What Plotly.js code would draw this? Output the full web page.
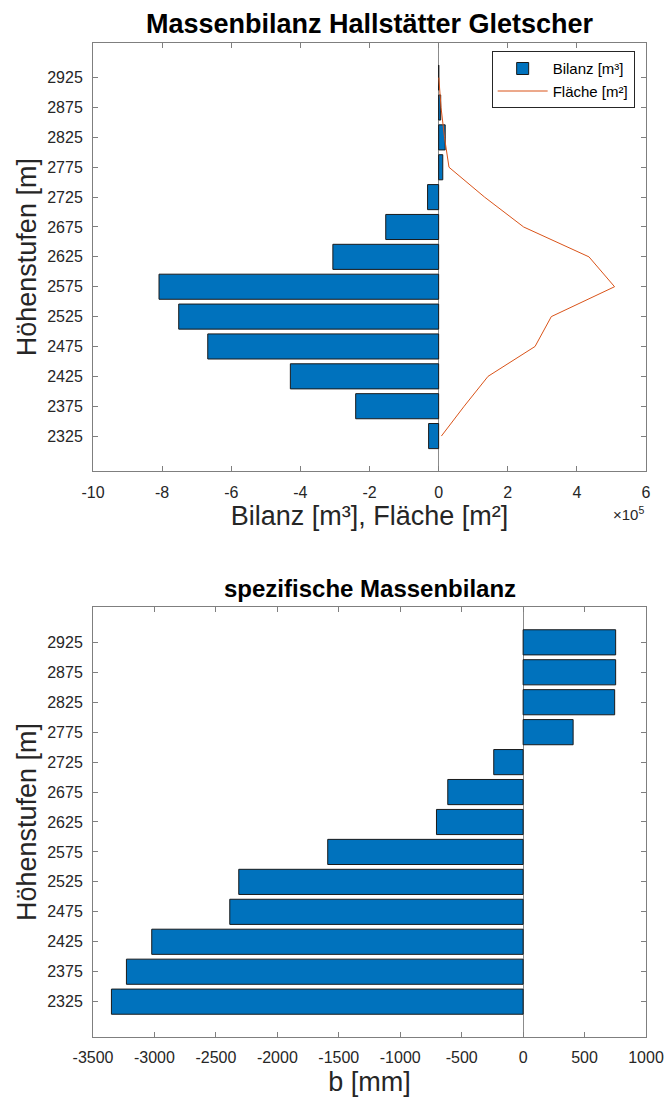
<!DOCTYPE html>
<html><head><meta charset="utf-8">
<script src="https://cdn.plot.ly/plotly-3.0.1.min.js"></script>
<style>html,body{margin:0;padding:0;background:#fff}#chart{width:664px;height:1101px}</style>
</head><body><div id="chart"></div>
<script>
// Höhenstufen [m]
const hoehen = [2325, 2375, 2425, 2475, 2525, 2575, 2625, 2675, 2725, 2775, 2825, 2875, 2925];
// Bilanz [m³]
const bilanz = [-29000, -240000, -429000, -668000, -752000, -809000, -306000, -153000, -32000, 12000, 19000, 6000, 500];
// Fläche [m²]
const flaeche = [8000, 74000, 143000, 279000, 326000, 509000, 435000, 246000, 133000, 30000, 17000, 7000, 500];
// spezifische Massenbilanz b [mm]
const bSpez = [-3350, -3228, -3022, -2387, -2314, -1590, -705, -613, -239, 407, 745, 753, 753];

const xTopVals = [-1000000, -800000, -600000, -400000, -200000, 0, 200000, 400000, 600000];
const xTopText = ["-10", "-8", "-6", "-4", "-2", "0", "2", "4", "6"];
const xBotVals = [-3500, -3000, -2500, -2000, -1500, -1000, -500, 0, 500, 1000];
const xBotText = ["-3500", "-3000", "-2500", "-2000", "-1500", "-1000", "-500", "0", "500", "1000"];
const yTickVals = hoehen;

const font = "Liberation Sans, Arial, Helvetica, sans-serif";
const axisCol = "#7f7f7f";
const barCol = "#0072BD";
const lineCol = "#D95319";

const traces = [
  {type: "bar", orientation: "h", y: hoehen, x: bilanz, name: "Bilanz [m³]",
   width: 42, marker: {color: barCol, line: {color: "#1a1a1a", width: 1}},
   xaxis: "x", yaxis: "y"},
  {type: "scatter", mode: "lines", y: hoehen, x: flaeche, name: "Fläche [m²]",
   line: {color: lineCol, width: 1}, xaxis: "x", yaxis: "y"},
  {type: "bar", orientation: "h", y: hoehen, x: bSpez, name: "b",
   width: 42, marker: {color: barCol, line: {color: "#1a1a1a", width: 1}},
   xaxis: "x2", yaxis: "y2", showlegend: false}
];

const axBase = {
  showgrid: false, showline: true, linecolor: axisCol, linewidth: 1, mirror: "ticks",
  ticks: "inside", ticklen: 5, tickcolor: axisCol, tickwidth: 1,
  tickfont: {family: font, size: 16, color: "#262626"},
  zeroline: false
};
const titleFont = {family: font, size: 27, color: "#262626"};

const layout = {
  width: 664, height: 1101,
  margin: {l: 93, r: 18, t: 43, b: 64},
  paper_bgcolor: "#fff", plot_bgcolor: "#fff",
  font: {family: font, color: "#262626"},
  bargap: 0,
  title: {text: "<b>Massenbilanz Hallstätter Gletscher</b>", font: {family: font, size: 27, color: "#000"},
          x: 0.5565, xanchor: "center", y: 0.979, yanchor: "middle"},
  xaxis: Object.assign({}, axBase, {domain: [0, 1], anchor: "y", range: [-1000000, 600000],
    tickmode: "array", tickvals: xTopVals, ticktext: xTopText, ticklabelstandoff: 6,
    zeroline: true, zerolinecolor: "#8c8c8c", zerolinewidth: 1,
    title: {text: "Bilanz [m³], Fläche [m²]", font: titleFont, standoff: 5}}),
  yaxis: Object.assign({}, axBase, {domain: [0.5691, 1], anchor: "x", range: [2266, 2983],
    tickmode: "array", tickvals: yTickVals, ticklabelstandoff: 6,
    title: {text: "Höhenstufen [m]", font: titleFont, standoff: 2}}),
  xaxis2: Object.assign({}, axBase, {domain: [0, 1], anchor: "y2", range: [-3500, 1000],
    tickmode: "array", tickvals: xBotVals, ticktext: xBotText, ticklabelstandoff: 6,
    zeroline: true, zerolinecolor: "#8c8c8c", zerolinewidth: 1,
    title: {text: "b [mm]", font: titleFont, standoff: 6}}),
  yaxis2: Object.assign({}, axBase, {domain: [0, 0.4326], anchor: "x2", range: [2266, 2984],
    tickmode: "array", tickvals: yTickVals, ticklabelstandoff: 6,
    title: {text: "Höhenstufen [m]", font: titleFont, standoff: 2}}),
  legend: {x: 0.9795, xanchor: "right", y: 0.9917, yanchor: "top", bgcolor: "#fff",
    bordercolor: "#262626", borderwidth: 1, font: {family: font, size: 15, color: "#000"},
    tracegroupgap: 0, itemwidth: 50},
  annotations: [
    {text: "<b>spezifische Massenbilanz</b>", xref: "paper", yref: "paper", x: 0.5, y: 0.4326,
     yshift: 18, xanchor: "center", yanchor: "middle", showarrow: false,
     font: {family: font, size: 24, color: "#000"}},
    {text: "×10<sup>5</sup>", xref: "paper", yref: "paper", x: 1, y: 0.5691, yshift: -42,
     xanchor: "right", yanchor: "middle", showarrow: false,
     font: {family: font, size: 15, color: "#262626"}}
  ]
};

Plotly.newPlot("chart", traces, layout, {displayModeBar: false, staticPlot: true});
</script></body></html>
